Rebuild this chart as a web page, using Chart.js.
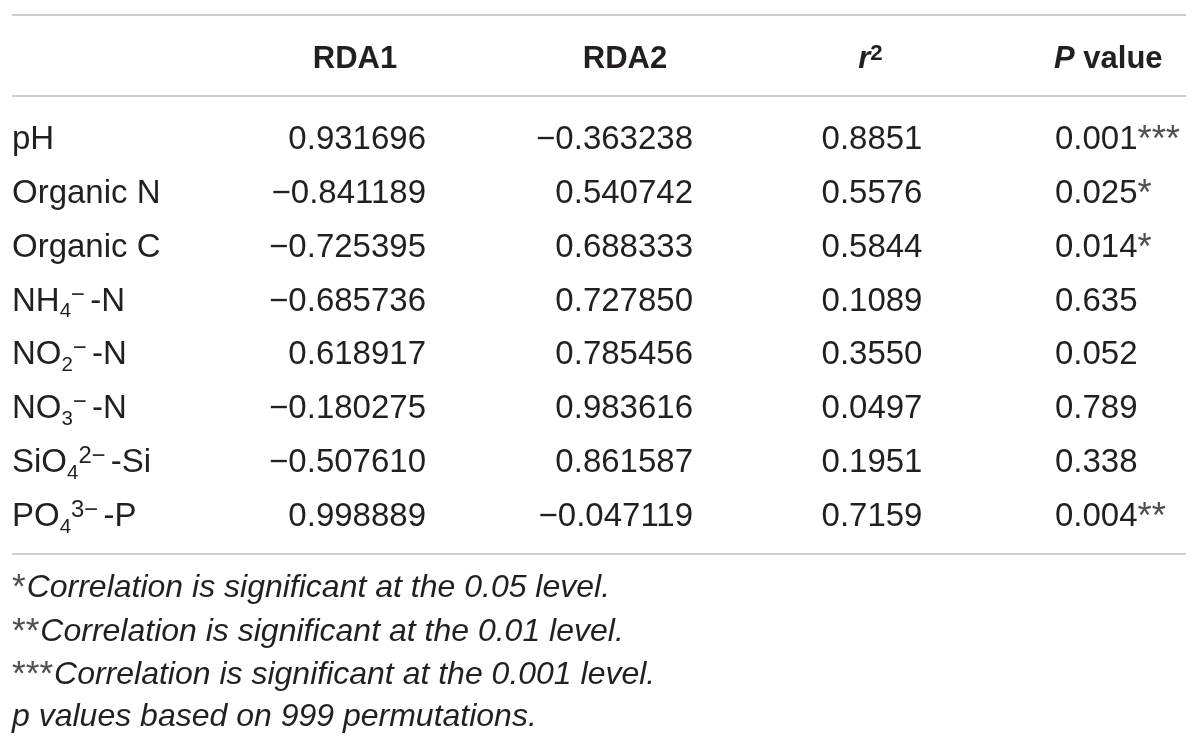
<!DOCTYPE html>
<html><head><meta charset="utf-8">
<script src="https://cdn.jsdelivr.net/npm/chart.js@4.4.1/dist/chart.umd.min.js"></script>
<style>html,body{margin:0;padding:0;background:#fff}#wrap{width:1200px;height:746px;position:relative}</style>
</head><body><div id="wrap"><canvas id="c"></canvas></div>
<script>
// ---------- DATA ----------
const rowLabels = ['pH','Organic N','Organic C','NH{_4}{^\u2212}-N','NO{_2}{^\u2212}-N','NO{_3}{^\u2212}-N','SiO{_4}{^2\u2212}-Si','PO{_4}{^3\u2212}-P'];
const rda1 = [0.931696,-0.841189,-0.725395,-0.685736,0.618917,-0.180275,-0.507610,0.998889];
const rda2 = [-0.363238,0.540742,0.688333,0.727850,0.785456,0.983616,0.861587,-0.047119];
const r2 = [0.8851,0.5576,0.5844,0.1089,0.3550,0.0497,0.1951,0.7159];
const pValues = [0.001,0.025,0.014,0.635,0.052,0.789,0.338,0.004];
const pStars = ['***','*','*','','','','','**'];
const colHeaders = ['','RDA1','RDA2','{~r}{^2}','{~P} value'];
const footnotes = [
  '{!*}{~Correlation is significant at the 0.05 level.}',
  '{!**}{~Correlation is significant at the 0.01 level.}',
  '{!***}{~Correlation is significant at the 0.001 level.}',
  '{~p values based on 999 permutations.}'
];

// ---------- LAYOUT / STYLE ----------
const FAMILY = '"Liberation Sans", Arial, Helvetica, sans-serif';
const TEXT = '#231f20';
const STAR = '#505050';
const RULE = '#cdcdcd';
const layout = {
  xMin:0, xMax:1200, yMin:-2.5417, yMax:11.299,
  headerRow:-1.484, rules:[-2.263,-0.761,7.737], ruleX:[12,1186],
  footRows:[8.330,9.147,9.944,10.724], footX:12,
  cols:[
    {x:12,  align:'left'},
    {x:426, align:'right', hx:355, halign:'center'},
    {x:693, align:'right', hx:625, halign:'center'},
    {x:872, align:'center', hx:873, halign:'center'},
    {x:1055,align:'left', hx:1054, halign:'left'}
  ]
};
const fmt = (v,d)=> (v<0?'\u2212':'') + Math.abs(v).toFixed(d);
const cellText = [
  rowLabels,
  rda1.map(v=>fmt(v,6)),
  rda2.map(v=>fmt(v,6)),
  r2.map(v=>fmt(v,4)),
  pValues.map((v,i)=>fmt(v,3)+(pStars[i]?'{!'+pStars[i]+'}':''))
];

// ---------- RICH TEXT ----------
// {_x} subscript, {^x} superscript, {~x} italic, {!x} significance marks
function parseRich(s){
  const re=/\{([_^~!])([^}]*)\}|([^{]+)/g; const out=[]; let m;
  while((m=re.exec(s))){ if(m[3]) out.push({t:m[3],mode:'n'}); else out.push({t:m[2],mode:m[1]}); }
  return out;
}
function segStyle(seg,f){
  let size=f.size, style=f.style||'normal', dy=0, pad=0, color=TEXT;
  if(seg.mode==='_'){ size=f.size*0.62; dy=f.size*0.21; }
  if(seg.mode==='^'){ size=f.size*0.72; dy=-f.size*0.27; pad=f.size*0.16; }
  if(seg.mode==='~'){ style='italic'; }
  if(seg.mode==='!'){ size=f.size*(f.starScale||1.1); dy=f.size*(f.starDy||0.07); color=STAR; style='normal'; pad=f.size*(f.starPad||0); }
  return {font: style+' '+(f.weight||'normal')+' '+size.toFixed(1)+'px '+FAMILY, dy, pad, color};
}
function drawRich(ctx,s,x,cy,align,f){
  const segs=parseRich(s); const hs=f.hscale||1;
  let w=0; const ws=[], st=[];
  segs.forEach(sg=>{const S=segStyle(sg,f); st.push(S); ctx.font=S.font; const ww=(ctx.measureText(sg.t).width+S.pad)*hs; ws.push(ww); w+=ww;});
  let cx = align==='left'?x:(align==='right'?x-w:x-w/2);
  const base = cy + f.size*0.358;
  ctx.textBaseline='alphabetic'; ctx.textAlign='left';
  segs.forEach((sg,i)=>{
    const S=st[i];
    ctx.save();
    ctx.translate(cx, base+S.dy); ctx.scale(hs,1);
    ctx.font=S.font; ctx.fillStyle=S.color;
    ctx.fillText(sg.t,0,0);
    ctx.restore();
    cx+=ws[i];
  });
}

// ---------- DATASETS (anchor points on the scales) ----------
const datasets = [];
cellText.forEach((col,ci)=>{
  datasets.push({label:'col'+ci, kind:'cell', col:ci,
    data: col.map((t,ri)=>({x:layout.cols[ci].x, y:ri, text:t})), pointRadius:0});
});
datasets.push({label:'header', kind:'header',
  data: colHeaders.map((t,ci)=>({x:layout.cols[ci].hx||layout.cols[ci].x, y:layout.headerRow, text:t, col:ci})), pointRadius:0});
datasets.push({label:'foot', kind:'foot',
  data: footnotes.map((t,i)=>({x:layout.footX, y:layout.footRows[i], text:t})), pointRadius:0});

const tablePlugin = {
  id:'tableText',
  afterDatasetsDraw(chart){
    const ctx=chart.ctx, xs=chart.scales.x, ys=chart.scales.y;
    ctx.save();
    ctx.strokeStyle=RULE; ctx.lineWidth=2;
    layout.rules.forEach(r=>{
      const py=Math.round(ys.getPixelForValue(r));
      ctx.beginPath(); ctx.moveTo(xs.getPixelForValue(layout.ruleX[0]),py); ctx.lineTo(xs.getPixelForValue(layout.ruleX[1]),py); ctx.stroke();
    });
    chart.data.datasets.forEach((ds,di)=>{
      const meta=chart.getDatasetMeta(di);
      meta.data.forEach((el,i)=>{
        const d=ds.data[i];
        if(ds.kind==='cell'){
          drawRich(ctx,d.text,el.x,el.y,layout.cols[ds.col].align,{size:33});
        } else if(ds.kind==='header'){
          if(!d.text) return;
          drawRich(ctx,d.text,el.x,el.y,layout.cols[d.col].halign,{size:31,weight:'bold'});
        } else {
          drawRich(ctx,d.text,el.x,el.y,'left',{size:32,hscale:1,starScale:1.1,starDy:0.02,starPad:0.03});
        }
      });
    });
    ctx.restore();
  }
};

new Chart(document.getElementById('c'),{
  type:'scatter',
  data:{datasets},
  options:{
    responsive:true, maintainAspectRatio:false, animation:false, events:[],
    layout:{padding:0},
    plugins:{legend:{display:false},tooltip:{enabled:false}},
    scales:{
      x:{type:'linear',min:layout.xMin,max:layout.xMax,display:false},
      y:{type:'linear',min:layout.yMin,max:layout.yMax,reverse:true,display:false}
    }
  },
  plugins:[tablePlugin]
});
</script>
</body></html>
